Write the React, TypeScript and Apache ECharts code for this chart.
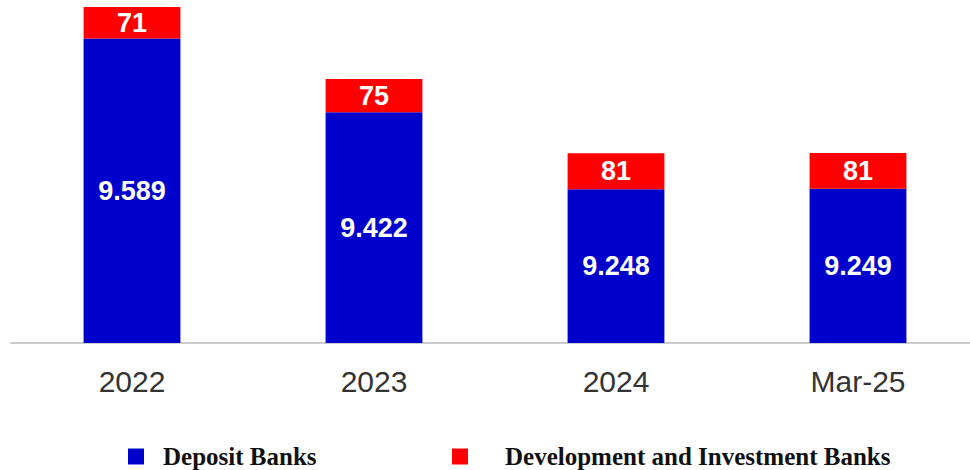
import React, { useEffect, useRef } from "react";
import * as echarts from "echarts";

const categories = ["2022", "2023", "2024", "Mar-25"];
const depositBanks = [9589, 9422, 9248, 9249];
const devInvestBanks = [71, 75, 81, 81];
const seriesNames = ["Deposit Banks", "Development and Investment Banks"];

const fmt = (v: number) => {
  const s = Math.round(v).toString();
  return s.replace(/\B(?=(\d{3})+(?!\d))/g, ".");
};

export default function App() {
  const ref = useRef<HTMLDivElement>(null);
  useEffect(() => {
    if (!ref.current) return;
    const chart = echarts.init(ref.current, null, { renderer: "svg" });
    const legendText = (padLeft: number) => ({
      fontFamily: "'Liberation Serif', 'DejaVu Serif', serif",
      fontWeight: 900,
      fontSize: 25,
      color: "#111",
      padding: [0, 0, 0, padLeft],
    });
    chart.setOption({
      animation: false,
      backgroundColor: "#ffffff",
      grid: { left: 11, width: 968, top: 7, bottom: 127, containLabel: false },
      legend: [
        {
          data: [seriesNames[0]],
          left: 123,
          top: 439,
          itemWidth: 16,
          itemHeight: 16,
          icon: "rect",
          textStyle: legendText(14),
        },
        {
          data: [seriesNames[1]],
          left: 447,
          top: 439,
          itemWidth: 16,
          itemHeight: 16,
          icon: "rect",
          textStyle: legendText(32),
        },
      ],
      xAxis: {
        type: "category",
        data: categories,
        axisLine: { show: true, lineStyle: { color: "#cccccc", width: 2 } },
        axisTick: { show: false },
        axisLabel: {
          color: "#333333",
          fontSize: 30,
          fontFamily: "Arial, 'Liberation Sans', sans-serif",
          margin: 23,
        },
      },
      yAxis: {
        type: "value",
        min: 8900,
        max: 9660,
        show: false,
        splitLine: { show: false },
      },
      series: [
        {
          name: seriesNames[0],
          type: "bar",
          stack: "total",
          barWidth: "40%",
          data: depositBanks,
          itemStyle: { color: "#0000CC" },
          label: {
            show: true,
            position: "inside",
            color: "#ffffff",
            fontSize: 27,
            fontWeight: "bold",
            fontFamily: "Arial, 'Liberation Sans', sans-serif",
            formatter: (p: any) => fmt(p.value),
          },
        },
        {
          name: seriesNames[1],
          type: "bar",
          stack: "total",
          barWidth: "40%",
          data: devInvestBanks,
          itemStyle: { color: "#FF0000" },
          label: {
            show: true,
            position: "inside",
            color: "#ffffff",
            fontSize: 27,
            fontWeight: "bold",
            fontFamily: "Arial, 'Liberation Sans', sans-serif",
            formatter: (p: any) => fmt(p.value),
          },
        },
      ],
    });
    return () => chart.dispose();
  }, []);
  return (
    <div
      ref={ref}
      style={{ position: "fixed", left: 0, top: 0, width: 985, height: 470, background: "#fff" }}
    />
  );
}
